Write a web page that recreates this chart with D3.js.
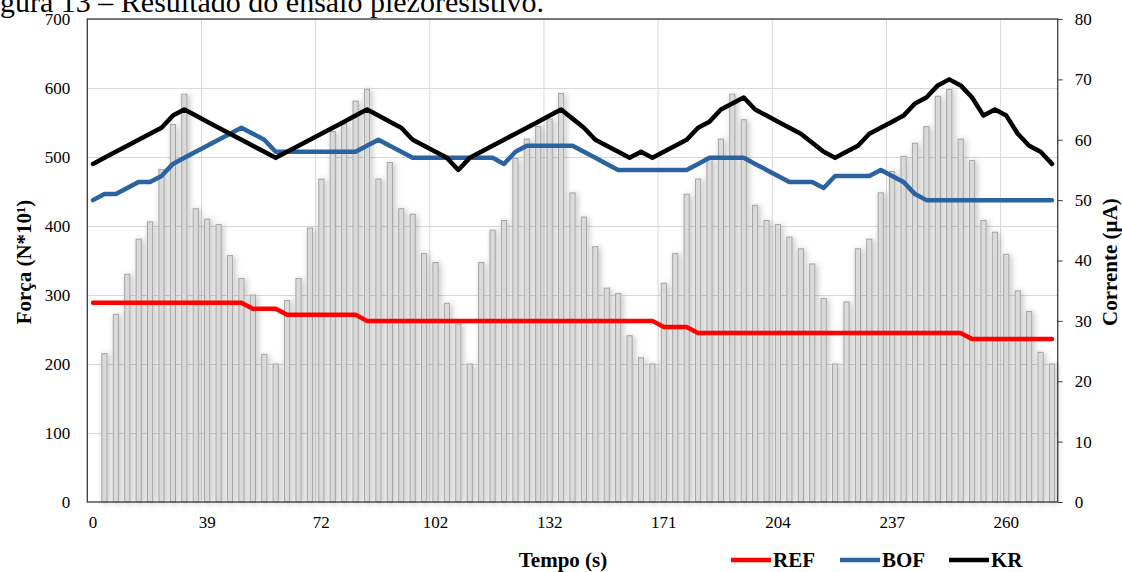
<!DOCTYPE html>
<html lang="pt">
<head>
<meta charset="UTF-8">
<title>Resultado do ensaio piezoresistivo</title>
<script src="https://cdnjs.cloudflare.com/ajax/libs/d3/7.8.5/d3.min.js"></script>
<style>
    body {
        margin: 0;
        background: #fff;
        overflow: hidden;
    }
    svg {
        display: block;
        font-family: "Liberation Serif", "Times New Roman", serif;
    }
    .tick text {
        font-size: 17px;
        fill: #000;
    }
    .bold {
        font-weight: bold;
        font-size: 21px;
    }
</style>
</head>
<body>
<svg id="chart" width="1122" height="572"></svg>

<script>
// Força (N*10¹) for each time step, first step has no bar
const forca = [0, 215, 272, 330, 381, 406, 482, 547, 591, 425, 410, 402, 357, 324, 300, 214, 200,
    292, 324, 397, 468, 537, 548, 581, 598, 468, 492, 425, 417, 360, 347, 288, 258, 200,
    347, 394, 408, 498, 526, 544, 555, 592, 448, 413, 370, 310, 302, 241, 209, 200,
    317, 360, 446, 468, 497, 526, 591, 554, 430, 408, 402, 384, 367, 345, 295, 200,
    290, 367, 381, 448, 479, 501, 520, 544, 588, 598, 526, 495, 408, 391, 359, 306, 276, 217, 200];

// Corrente (µA)
const ref = [33, 33, 33, 33, 33, 33, 33, 33, 33, 33, 33, 33, 33, 33, 32, 32, 32,
    31, 31, 31, 31, 31, 31, 31, 30, 30, 30, 30, 30, 30, 30, 30, 30, 30,
    30, 30, 30, 30, 30, 30, 30, 30, 30, 30, 30, 30, 30, 30, 30, 30,
    29, 29, 29, 28, 28, 28, 28, 28, 28, 28, 28, 28, 28, 28, 28, 28,
    28, 28, 28, 28, 28, 28, 28, 28, 28, 28, 28, 27, 27, 27, 27, 27, 27, 27, 27];

const bof = [50, 51, 51, 52, 53, 53, 54, 56, 57, 58, 59, 60, 61, 62, 61, 60, 58,
    58, 58, 58, 58, 58, 58, 58, 59, 60, 59, 58, 57, 57, 57, 57, 57, 57,
    57, 57, 56, 58, 59, 59, 59, 59, 59, 58, 57, 56, 55, 55, 55, 55,
    55, 55, 55, 56, 57, 57, 57, 57, 56, 55, 54, 53, 53, 53, 52, 54,
    54, 54, 54, 55, 54, 53, 51, 50, 50, 50, 50, 50, 50, 50, 50, 50, 50, 50, 50];

const kr = [56, 57, 58, 59, 60, 61, 62, 64, 65, 64, 63, 62, 61, 60, 59, 58, 57,
    58, 59, 60, 61, 62, 63, 64, 65, 64, 63, 62, 60, 59, 58, 57, 55, 57,
    58, 59, 60, 61, 62, 63, 64, 65, 63.5, 62, 60, 59, 58, 57, 58, 57,
    58, 59, 60, 62, 63, 65, 66, 67, 65, 64, 63, 62, 61, 59.5, 58, 57,
    58, 59, 61, 62, 63, 64, 66, 67, 69, 70, 69, 67, 64, 65, 64, 61, 59, 58, 56];

// Tempo (s) labels, shown every 10 steps
const tempoTicks = ["0", "39", "72", "102", "132", "171", "204", "237", "260"];
const tickEvery = 10;

const series = [
    { name: "REF", color: "#ff0000", values: ref },
    { name: "BOF", color: "#2b63a1", values: bof },
    { name: "KR", color: "#000000", values: kr }
];

const plot = { left: 87.3, right: 1057.7, top: 19, bottom: 502 };

const svg = d3.select("#chart");

// soft shadow behind the bars
const defs = svg.append("defs");
const filter = defs.append("filter")
    .attr("id", "barShadow")
    .attr("x", "-5%").attr("y", "-10%")
    .attr("width", "110%").attr("height", "120%");
filter.append("feGaussianBlur").attr("in", "SourceAlpha").attr("stdDeviation", 3);
filter.append("feOffset").attr("dx", 2).attr("dy", 1).attr("result", "blur");
filter.append("feComponentTransfer").append("feFuncA").attr("type", "linear").attr("slope", 0.25);
const merge = filter.append("feMerge");
merge.append("feMergeNode");
merge.append("feMergeNode").attr("in", "SourceGraphic");

// scales
const x = d3.scaleBand()
    .domain(d3.range(forca.length))
    .range([plot.left, plot.right])
    .padding(0);
const cx = i => x(i) + x.bandwidth() / 2;
const barW = x.bandwidth() * 0.455;

const yLeft = d3.scaleLinear().domain([0, 700]).range([plot.bottom, plot.top]);
const yRight = d3.scaleLinear().domain([0, 80]).range([plot.bottom, plot.top]);

// title, cut at top of the page
svg.append("text")
    .attr("x", -25)
    .attr("y", 12)
    .style("font-size", "30px")
    .text("Figura 13 – Resultado do ensaio piezoresistivo.");

// gridlines
const grid = svg.append("g").attr("stroke", "#d9d9d9").attr("stroke-width", 1);
grid.selectAll("line.h")
    .data(d3.range(100, 701, 100))
    .join("line")
    .attr("class", "h")
    .attr("x1", plot.left).attr("x2", plot.right)
    .attr("y1", d => Math.round(yLeft(d)) + 0.5)
    .attr("y2", d => Math.round(yLeft(d)) + 0.5);
grid.selectAll("line.v")
    .data(d3.range(tickEvery, forca.length, tickEvery))
    .join("line")
    .attr("class", "v")
    .attr("x1", d => x(d)).attr("x2", d => x(d))
    .attr("y1", plot.top).attr("y2", plot.bottom);

// bars
svg.append("g")
    .attr("filter", "url(#barShadow)")
    .selectAll("rect")
    .data(forca.map((v, i) => ({ v, i })).filter(d => d.v > 0))
    .join("rect")
    .attr("x", d => cx(d.i) - barW / 2)
    .attr("width", barW)
    .attr("y", d => yLeft(d.v))
    .attr("height", d => yLeft(0) - yLeft(d.v))
    .attr("fill", "#dadada")
    .attr("stroke", "#a4a4a4")
    .attr("stroke-width", 1);

// lines
const line = d3.line()
    .x((d, i) => cx(i))
    .y(d => yRight(d));

svg.append("g")
    .selectAll("path")
    .data(series)
    .join("path")
    .attr("d", d => line(d.values))
    .attr("fill", "none")
    .attr("stroke", d => d.color)
    .attr("stroke-width", 4.5)
    .attr("stroke-linejoin", "round")
    .attr("stroke-linecap", "round");

// frame
svg.append("rect")
    .attr("x", plot.left).attr("y", plot.top)
    .attr("width", plot.right - plot.left)
    .attr("height", plot.bottom - plot.top)
    .attr("fill", "none")
    .attr("stroke", "#3a3a3a")
    .attr("stroke-width", 1.3);

// axes
const leftAxis = svg.append("g")
    .attr("transform", `translate(${plot.left},0)`)
    .call(d3.axisLeft(yLeft).tickValues(d3.range(0, 701, 100)).tickSize(0).tickPadding(17));
leftAxis.select(".domain").remove();

const rightAxis = svg.append("g")
    .attr("transform", `translate(${plot.right},0)`)
    .call(d3.axisRight(yRight).tickValues(d3.range(0, 81, 10)).tickSize(5).tickPadding(12));
rightAxis.select(".domain").remove();
rightAxis.selectAll(".tick line").attr("stroke", "#3a3a3a");

const bottomAxis = svg.append("g")
    .attr("transform", `translate(0,${plot.bottom})`)
    .call(d3.axisBottom(x)
        .tickValues(d3.range(0, forca.length, tickEvery))
        .tickFormat(d => tempoTicks[d / tickEvery])
        .tickSize(0)
        .tickPadding(14));
bottomAxis.select(".domain").remove();

svg.selectAll(".tick text").style("font-family", "'Liberation Serif', serif");

// axis titles
svg.append("text")
    .attr("class", "bold")
    .attr("transform", "translate(24,262) rotate(-90)")
    .attr("text-anchor", "middle")
    .attr("dy", "0.35em")
    .text("Força (N*10¹)");

svg.append("text")
    .attr("class", "bold")
    .attr("transform", "translate(1110,262) rotate(-90)")
    .attr("text-anchor", "middle")
    .attr("dy", "0.35em")
    .text("Corrente (µA)");

svg.append("text")
    .attr("class", "bold")
    .attr("x", 563)
    .attr("y", 560)
    .attr("text-anchor", "middle")
    .attr("dy", "0.35em")
    .text("Tempo (s)");

// legend
const legend = svg.append("g")
    .selectAll("g")
    .data(series)
    .join("g")
    .attr("transform", (d, i) => `translate(${731 + i * 109},560)`);
legend.append("line")
    .attr("x1", 0).attr("x2", 40)
    .attr("stroke", d => d.color)
    .attr("stroke-width", 4.5);
legend.append("text")
    .attr("class", "bold")
    .attr("x", 42)
    .attr("dy", "0.35em")
    .text(d => d.name);
</script>
</body>
</html>
